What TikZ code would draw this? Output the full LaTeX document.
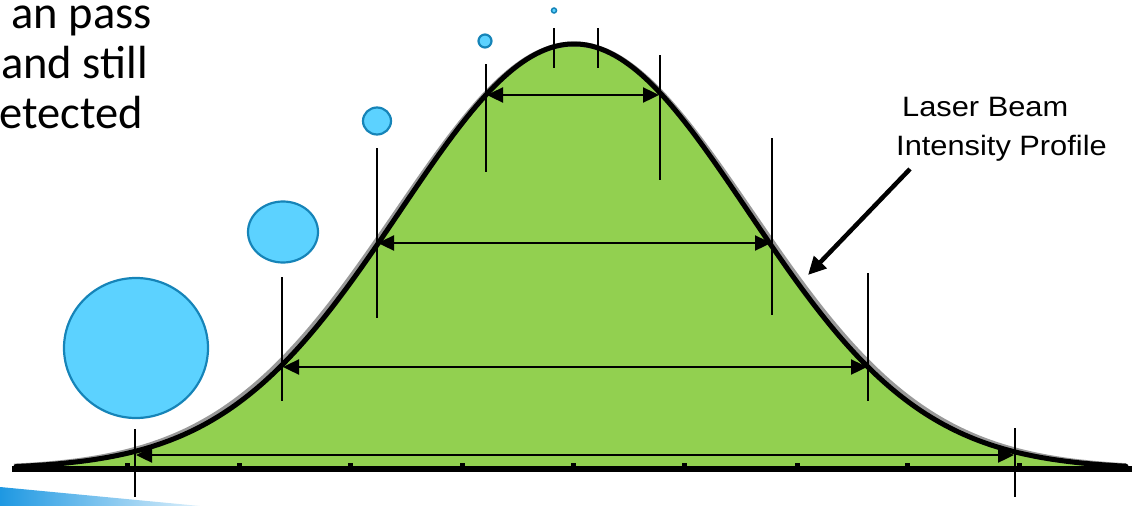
\documentclass[tikz,border=0pt]{standalone}
\usepackage{fontspec}
\setmainfont{Liberation Sans}
\newfontfamily\calibri{Carlito}
\usetikzlibrary{arrows.meta}
\definecolor{profgreen}{RGB}{146,208,80}
\definecolor{bubblefill}{RGB}{92,210,255}
\definecolor{bubbleedge}{RGB}{22,132,184}
\definecolor{swooshblue}{RGB}{30,152,226}

\begin{document}
\begin{tikzpicture}[
  x=1pt, y=-1pt,
  profile/.style={line width=5pt, line join=round, line cap=round},
  shadow/.style={line width=5pt, black!40},
  marker/.style={line width=2.2pt},
  span/.style={<->, >={Triangle[length=16pt,width=15pt]}, line width=2.4pt},
  bubble/.style={fill=bubblefill, draw=bubbleedge, line width=2.2pt},
  pointer/.style={-{Triangle[length=18pt,width=17pt]}, line width=4.5pt},
  lbl/.style={font=\fontsize{28}{32}\selectfont, anchor=base west, inner sep=0pt},
  note/.style={font=\calibri\fontsize{46.5}{52}\selectfont, anchor=base east, inner sep=0pt},
]
  \useasboundingbox (0,0) rectangle (1136,506);

  \shade[left color=swooshblue, right color=swooshblue!15]
    (0,487) -- (200,506) -- (0,506) -- cycle;

  \fill[profgreen] plot[domain=14:1130, samples=240]
    (\x, {469-425*exp(-((\x-574)/174)^2/2)}) -- cycle;
  \draw[shadow] plot[domain=14:1126, samples=240]
    (\x, {469-425*exp(-((\x-574)/177)^2/2)});
  \draw[profile] plot[domain=16:1126, samples=240]
    (\x, {469-425*exp(-((\x-574)/174)^2/2)});

  \draw[line width=6pt] (12,469) -- (1132,469);
  \foreach \t in {127,239,350,462,573,684,797,907,1019}
    \fill (\t-2.5,463) rectangle (\t+2.5,468);

  \foreach \xl/\xr/\ya/\tl/\bl/\tr/\br in
    {135/1015/455/429/497/428/497, 282/868/367/277/401/273/401,
     377/772/243/148/318/138/315, 486/660/95/64/172/55/180}
  {
    \draw[marker] (\xl,\tl) -- (\xl,\bl);
    \draw[marker] (\xr,\tr) -- (\xr,\br);
    \draw[span] (\xl+1,\ya) -- (\xr-1,\ya);
  }
  \draw[marker] (554,28) -- (554,68);
  \draw[marker] (598,28) -- (598,68);

  \draw[bubble] (136,348) ellipse [x radius=72pt, y radius=70pt];
  \draw[bubble] (283,232) ellipse [x radius=35pt, y radius=30.5pt];
  \draw[bubble] (377,121) ellipse [x radius=14pt, y radius=13.5pt];
  \draw[bubble] (485,41) ellipse [x radius=6.5pt, y radius=6.5pt];
  \draw[bubble, line width=1.5pt] (554,10.5) circle [radius=2.5pt];

  \node[note] (txt1) at (152,28) {an pass};
  \node[note] (txt2) at (148,78) {and still};
  \node[note] (txt3) at (143,128) {etected};

  \node[lbl] (lbl1) at (902,116) {\scalebox{1.1}[1]{Laser Beam}};
  \node[lbl] (lbl2) at (896,155) {\scalebox{1.1}[1]{Intensity Profile}};

  \coordinate (ptail) at (910,169);
  \coordinate (phead) at (808,275);
  \draw[pointer] (ptail) -- (phead);
\end{tikzpicture}
\end{document}
